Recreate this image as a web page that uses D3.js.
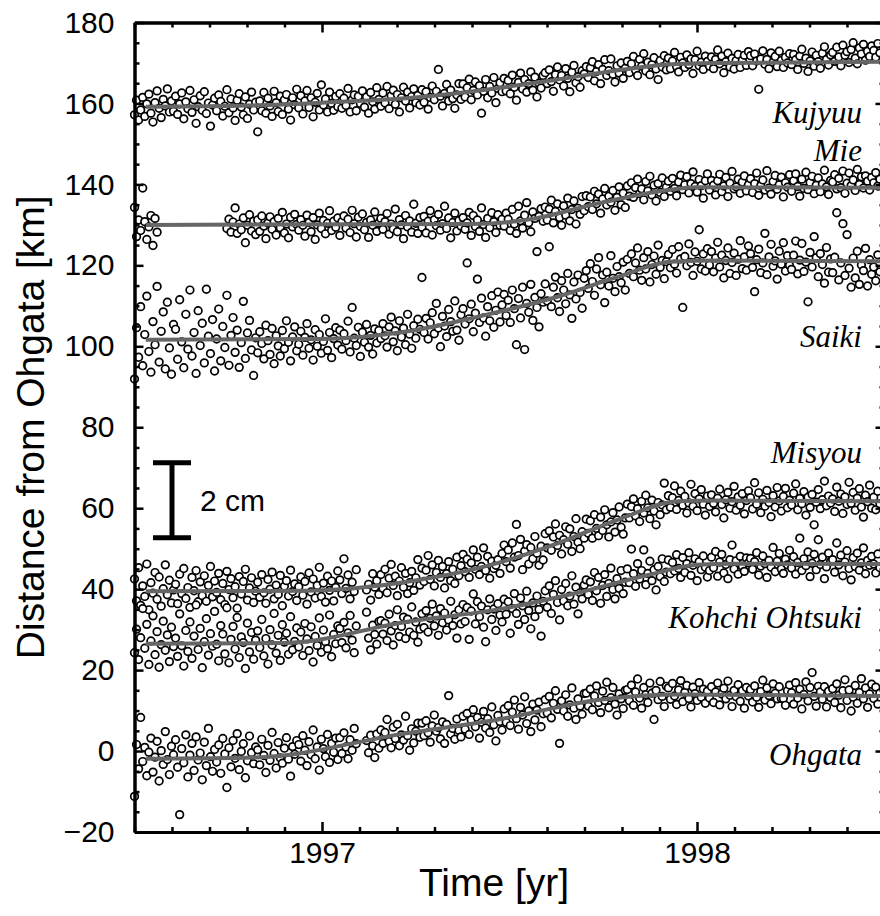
<!DOCTYPE html>
<html>
<head>
<meta charset="utf-8">
<script src="https://cdn.jsdelivr.net/npm/d3@7"></script>
<style>
body{margin:0;background:#fff;}
svg{display:block;font-family:"Liberation Sans",Arial,Helvetica,sans-serif;}
.station{font-family:"Liberation Serif","Times New Roman",serif;font-style:italic;font-size:31px;}
</style>
</head>
<body>
<svg id="chart"></svg>
<script>
// GPS solutions, one every second day from the first epoch (null = no solution)
var firstEpoch=1996.5;
var stepDays=2;

var kujyuu=[
157.2,160.8,155.9,158.4,161.5,156.8,159.9,162.3,157.6,155.4,160.2,163.1,158.8,156.5,161.0,159.4,163.6,157.9,160.6,158.1,
161.8,157.3,159.9,162.6,156.2,160.4,158.7,163.2,157.8,160.9,155.1,159.2,161.9,158.3,162.9,157.5,160.1,154.4,159.6,161.3,
158.2,162.1,160.5,156.9,159.3,163.4,157.7,161.1,158.9,155.8,160.8,162.4,159.1,157.2,161.6,156.3,159.8,162.8,158.4,160.3,
153.0,160.6,158.2,162.7,157.6,161.3,159.4,156.8,163.0,160.2,158.0,161.8,157.3,160.9,162.2,158.6,155.9,161.4,159.7,163.5,
158.9,161.9,157.4,160.6,163.2,159.0,161.4,156.7,160.3,162.5,158.4,164.6,159.6,161.1,157.9,162.8,160.0,158.3,161.7,159.2,
162.4,158.8,161.3,159.5,163.7,157.9,160.9,162.1,158.2,161.8,160.0,163.1,159.1,161.6,157.6,162.7,160.4,158.6,163.9,161.0,
159.3,162.6,160.1,164.2,158.7,161.9,163.3,159.8,162.2,157.9,161.4,164.0,160.6,162.8,158.9,161.7,163.6,160.2,162.0,159.6,
163.4,160.3,162.9,158.6,161.5,164.3,160.9,163.0,168.4,161.8,159.4,162.5,164.7,160.6,163.3,161.2,158.8,162.1,164.9,161.0,
164.8,161.6,163.9,166.0,160.9,163.2,165.3,162.1,164.4,157.6,163.0,165.9,161.4,164.2,162.6,166.4,160.2,163.7,165.1,162.9,
166.2,163.1,165.7,162.4,167.0,164.0,160.8,165.2,167.5,163.6,165.9,162.8,164.9,167.8,163.3,166.5,161.6,165.0,163.8,166.9,
167.6,164.9,168.3,165.4,163.0,167.1,169.0,165.8,166.9,164.3,168.6,166.2,162.9,167.7,169.4,165.1,166.6,164.0,168.1,167.3,
169.1,166.4,168.8,170.3,165.6,167.9,169.6,164.9,168.4,170.8,166.9,168.1,171.0,167.2,165.3,169.3,167.5,170.0,166.2,168.7,
170.4,167.6,169.8,171.6,168.2,166.9,170.9,169.2,172.3,168.0,170.2,167.1,169.6,171.3,168.5,165.9,170.6,169.0,171.8,168.3,
171.2,168.6,170.5,172.6,169.1,167.8,171.4,170.0,168.9,172.0,169.6,171.0,167.4,170.8,172.9,169.3,170.2,168.4,171.7,170.4,
169.2,171.5,168.6,170.9,173.2,169.8,171.7,167.6,170.3,172.4,169.0,171.1,168.5,170.6,172.1,168.9,170.7,171.9,169.4,172.8,
171.8,169.3,172.2,170.5,163.5,171.0,173.0,169.7,170.9,168.6,172.5,170.2,171.6,169.1,172.9,170.6,168.9,171.4,170.0,172.3,
169.6,172.1,170.8,168.4,171.7,173.4,169.9,171.2,167.9,170.5,172.7,169.2,171.9,170.3,168.7,172.4,174.0,170.9,169.5,172.0,
172.6,170.4,173.9,171.5,169.3,174.4,171.9,172.8,170.1,173.3,175.0,171.2,169.8,173.7,172.2,174.6,170.7,172.9,171.6,174.2,
173.1,171.4,174.8,172.5];

var mie=[
134.3,127.1,131.2,128.6,139.1,130.8,126.4,129.5,132.3,124.9,131.6,128.2,null,null,null,null,null,null,null,null,
null,null,null,null,null,null,null,null,null,null,null,null,null,null,null,null,null,null,null,null,
null,null,null,null,null,129.1,131.4,128.2,130.7,134.2,127.9,130.2,128.8,131.7,125.6,129.9,132.5,128.5,130.9,127.6,
131.2,128.4,132.2,129.7,126.6,130.5,132.0,128.9,130.8,127.5,131.6,129.3,133.1,128.0,130.2,126.8,131.9,129.5,132.6,130.1,
128.7,131.3,129.9,127.2,132.4,130.6,128.3,131.8,126.4,130.0,132.9,129.1,131.1,127.8,130.4,133.5,128.6,130.9,129.4,131.7,
127.4,130.8,132.2,129.2,131.4,128.1,133.6,130.3,127.0,131.9,129.6,132.7,128.8,130.6,126.9,131.2,129.9,133.2,128.4,130.5,
131.6,128.9,130.8,132.8,127.7,130.2,129.0,133.9,128.3,131.3,130.0,126.6,132.3,129.5,131.0,128.2,135.1,130.4,127.9,131.8,
129.4,132.1,128.0,130.9,133.5,127.5,131.3,129.8,132.6,128.7,130.3,134.6,129.1,131.7,126.8,130.6,132.9,128.5,131.1,129.7,
131.8,128.9,130.5,133.1,127.4,132.3,129.6,131.2,128.4,134.2,130.1,126.9,131.6,129.3,133.0,130.8,128.1,132.5,129.9,131.4,
129.7,132.9,131.4,128.6,133.8,130.2,127.9,134.6,131.0,129.2,132.4,135.5,130.5,128.3,133.2,131.6,123.4,132.1,134.0,130.9,
134.4,131.2,133.9,136.1,130.5,133.3,135.2,131.8,129.9,134.7,132.4,136.6,131.0,133.8,135.9,130.2,134.1,132.6,137.0,133.5,
137.2,134.5,136.9,133.8,138.3,135.2,137.6,132.9,136.4,139.0,134.9,137.1,135.6,138.5,133.6,136.8,139.4,135.0,137.8,134.3,
139.6,137.1,140.4,136.8,139.2,141.3,137.7,138.9,136.2,140.7,138.4,142.0,137.4,139.8,135.9,140.2,138.0,141.6,137.0,139.3,
140.8,138.3,141.5,139.0,137.2,140.6,142.3,138.7,139.9,141.9,137.9,140.2,143.1,139.5,138.1,141.2,139.7,136.6,140.9,142.6,
138.6,141.0,139.8,137.4,140.9,142.5,138.2,139.6,141.7,137.0,140.3,143.2,138.9,139.4,141.3,137.8,140.6,142.1,138.4,139.9,
141.4,138.0,140.2,142.8,137.3,139.7,141.1,138.6,143.4,139.1,137.6,140.7,142.2,138.8,139.9,141.8,136.9,140.4,139.3,142.4,
138.3,140.9,142.6,139.5,137.1,141.3,139.0,143.0,138.7,140.5,142.0,137.7,139.8,141.6,138.2,140.1,143.5,139.4,137.5,141.0,
140.6,142.4,138.9,141.5,139.2,143.3,137.8,140.3,142.8,139.7,141.1,138.5,143.7,140.0,141.9,139.1,142.1,140.8,138.6,141.7,
140.4,142.9,139.6,141.3];

var saiki=[
91.9,104.6,97.3,109.8,95.2,102.9,112.4,98.7,93.6,106.1,100.4,114.8,96.1,103.7,108.5,94.4,110.9,99.6,93.1,105.4,
104.2,96.8,111.5,101.1,94.7,107.9,99.3,113.9,97.6,103.4,93.3,108.8,100.2,105.7,95.9,114.1,102.5,98.2,106.6,93.9,
101.8,109.2,96.4,104.9,99.7,112.6,95.3,102.7,107.1,98.5,104.0,94.8,100.9,111.1,97.0,103.3,106.4,99.1,92.8,102.1,
98.4,103.6,100.7,96.9,105.2,101.4,98.0,104.4,95.7,102.6,100.1,97.6,103.9,99.4,106.3,101.0,96.4,102.3,104.8,98.9,
100.5,103.7,97.8,102.2,105.6,99.5,101.6,96.6,104.1,100.0,102.9,98.3,101.2,106.8,99.0,103.4,97.2,101.9,104.6,100.3,
104.0,99.3,103.1,101.4,106.2,98.6,109.6,102.0,100.2,104.7,97.5,103.5,101.0,105.4,99.8,102.7,98.1,104.3,100.8,103.9,
101.9,105.6,102.6,99.8,104.8,107.2,101.1,103.8,98.9,106.3,102.3,104.5,100.4,107.9,103.0,99.5,105.1,102.0,106.7,104.2,
117.0,103.4,106.9,101.8,105.8,108.3,103.1,110.6,104.5,99.9,107.4,105.0,102.4,109.1,106.1,103.7,111.2,104.0,101.5,107.8,
109.3,105.5,120.6,106.8,110.4,103.6,108.2,116.6,105.9,111.9,107.0,102.5,109.8,106.3,112.5,104.7,108.9,113.4,106.0,110.2,
112.8,107.6,111.4,105.9,113.9,109.3,100.4,111.8,107.0,114.6,99.2,110.6,108.4,115.3,106.4,112.1,109.6,104.8,113.0,110.9,
115.4,111.2,124.6,109.8,114.6,117.1,112.0,108.6,116.2,113.9,110.5,118.0,112.7,106.9,115.9,111.7,117.6,113.3,109.4,116.8,
118.7,114.3,120.4,116.0,112.6,119.1,121.9,115.2,117.6,110.8,118.3,114.9,122.4,116.8,113.5,119.7,117.2,115.7,120.8,113.9,
121.5,118.0,122.8,117.2,120.6,124.3,118.8,116.3,121.9,119.1,123.4,115.9,120.2,122.3,117.8,125.0,119.5,121.2,116.7,120.9,
122.7,119.4,123.9,120.3,118.1,124.6,121.6,109.6,122.2,119.9,125.3,120.7,117.5,123.3,121.0,128.8,119.1,122.8,118.6,124.1,
120.1,123.4,118.4,121.8,125.7,119.6,122.5,116.9,121.2,124.3,118.0,120.7,123.0,117.5,121.5,126.1,119.2,122.1,118.8,124.8,
122.9,119.5,113.5,121.4,124.0,118.2,120.6,127.9,117.7,122.1,125.2,119.8,121.1,116.6,123.5,120.3,125.6,118.6,122.4,120.0,
119.0,122.5,126.0,117.9,121.3,125.4,118.5,120.8,111.0,123.2,119.6,127.1,121.9,117.2,122.9,120.2,115.6,124.4,118.3,121.6,
118.2,122.0,133.0,116.4,120.6,130.3,117.5,127.6,119.3,114.6,121.8,116.9,123.5,115.3,120.1,118.7,124.2,114.9,121.4,117.8,
119.6,116.2,122.6,118.4];

var misyou=[
42.5,37.1,45.3,36.0,40.8,38.2,46.2,34.9,41.6,39.0,44.1,37.5,43.0,35.8,40.1,46.0,38.6,42.2,36.6,39.8,
41.2,36.4,43.7,38.9,45.1,37.7,40.4,35.5,42.9,39.6,44.6,36.9,41.8,38.4,43.3,37.0,40.9,45.6,38.1,42.0,
39.2,43.9,37.4,41.4,36.2,44.4,39.9,42.6,37.9,40.6,35.3,43.1,38.8,41.9,44.9,37.3,40.3,42.8,36.7,39.5,
41.7,38.0,43.6,39.1,36.5,42.4,40.0,44.2,37.6,41.0,38.7,43.4,35.9,40.7,42.1,38.3,44.7,39.4,41.3,37.2,
40.6,43.0,38.5,41.9,36.3,44.0,39.3,42.5,37.8,40.9,45.4,38.2,41.5,36.8,43.2,39.7,42.0,37.1,40.4,44.5,
42.3,38.9,47.5,40.2,43.5,37.6,41.7,39.4,44.8,null,null,null,null,39.8,41.2,37.3,43.8,40.5,42.1,38.7,
43.6,40.2,44.9,39.1,42.7,46.1,40.9,43.2,38.4,42.0,45.3,40.5,43.9,38.9,41.6,44.4,39.7,42.8,47.3,41.0,
45.2,41.9,44.7,48.3,42.4,46.0,40.8,44.1,47.1,42.9,45.6,40.3,43.8,46.8,42.1,44.9,41.4,47.9,43.3,45.8,
48.6,44.3,47.4,42.9,46.5,49.7,44.9,47.9,43.6,45.6,50.2,44.6,48.1,42.7,46.9,45.1,45.9,47.3,43.9,48.8,
50.9,46.8,49.7,45.2,51.4,47.9,56.0,48.3,52.3,44.8,49.4,51.0,46.2,50.3,47.5,53.0,48.9,45.9,50.6,47.2,
53.7,50.2,54.4,49.6,52.9,56.1,50.8,53.3,48.7,52.2,55.4,51.1,54.9,49.3,53.0,57.4,51.6,50.0,54.2,52.6,
57.3,53.8,56.9,52.6,58.4,55.0,53.2,57.8,54.5,59.6,55.9,52.9,56.6,58.9,54.1,57.1,60.3,55.3,53.6,57.6,
61.0,57.6,60.4,62.3,58.1,59.9,56.7,61.7,58.8,63.2,60.1,57.4,62.0,59.3,55.9,61.4,58.4,60.8,66.2,59.6,
63.1,60.2,62.6,65.5,59.7,61.9,64.2,60.7,62.9,58.8,61.3,65.9,60.5,63.6,59.4,62.3,64.6,61.0,58.3,63.0,
60.4,63.3,61.2,59.1,62.5,64.7,60.9,57.6,62.1,63.9,60.0,61.6,65.4,59.5,62.8,60.7,63.6,58.6,61.9,64.3,
62.6,59.8,66.3,61.0,63.8,58.9,62.2,60.5,64.4,61.4,57.9,63.1,60.3,65.1,61.8,59.3,62.9,64.9,60.1,62.0,
60.8,63.7,66.0,59.6,62.4,61.1,64.1,58.3,62.7,60.2,63.4,55.9,61.5,64.6,59.9,62.1,66.7,60.6,63.0,61.3,
62.3,59.2,65.2,61.7,63.5,58.7,62.8,60.9,66.4,61.2,63.9,59.5,62.5,64.8,60.3,57.8,63.2,61.6,65.7,60.0,
62.7,59.6,64.2,61.1];

var kohchiOhtsuki=[
24.3,30.1,22.6,28.0,35.2,25.4,31.3,21.4,27.2,33.4,23.8,29.5,20.7,26.3,32.1,24.9,28.7,22.1,30.6,25.8,
27.9,23.4,33.9,26.0,21.0,29.8,24.6,31.9,22.9,28.4,36.1,25.1,30.3,20.6,27.0,32.7,23.7,29.0,25.9,34.5,
26.4,22.3,31.0,28.9,24.0,35.4,21.8,27.6,30.8,25.2,33.0,23.1,28.2,26.8,20.4,31.6,24.5,29.3,22.7,27.4,
29.7,25.6,32.5,23.5,27.8,21.5,30.0,26.2,34.0,24.2,28.6,22.4,31.2,26.9,29.1,23.9,33.2,25.0,27.1,30.4,
25.7,29.4,23.6,31.5,27.7,24.8,30.7,22.0,28.3,26.1,32.9,24.4,29.9,27.0,25.3,33.6,23.3,28.8,26.5,30.9,
30.3,26.8,31.8,25.5,29.2,33.5,27.4,24.3,30.9,null,null,null,null,34.3,27.9,25.0,31.1,28.8,26.4,32.0,
32.2,28.9,31.6,27.3,33.8,29.7,26.2,31.0,34.9,28.3,30.8,33.1,27.8,32.6,29.4,35.6,28.6,31.9,26.9,30.1,
33.9,30.5,34.7,29.4,32.8,36.3,30.9,33.4,28.6,35.2,31.7,34.1,29.9,32.4,37.0,31.0,33.7,27.9,34.9,31.4,
36.2,32.0,35.5,27.6,34.6,38.8,31.4,36.9,33.2,35.8,30.6,27.0,34.9,37.6,32.5,35.1,29.8,36.4,33.6,31.9,
37.5,33.8,36.9,29.1,35.2,38.9,34.0,31.3,37.8,35.9,32.5,39.5,34.7,30.2,36.6,33.2,38.3,35.0,28.4,37.0,
39.6,35.5,40.8,34.0,38.7,42.1,36.7,32.4,39.9,37.1,41.4,35.9,38.3,43.3,36.3,40.5,33.9,39.1,37.6,41.0,
42.3,38.7,41.8,37.2,44.1,39.6,42.9,36.5,40.9,43.6,38.2,41.4,45.2,39.9,37.6,42.6,40.2,44.6,38.9,41.7,
45.0,41.6,49.9,43.8,40.7,46.3,42.5,44.6,49.7,41.1,43.9,46.9,42.1,44.8,39.8,45.6,43.1,47.5,41.9,44.2,
47.2,43.8,46.6,44.5,48.5,45.1,42.9,47.8,44.1,46.3,49.0,43.4,45.9,47.5,42.1,46.8,44.8,48.2,45.4,43.0,
44.6,47.9,45.3,49.3,43.2,46.7,48.6,44.0,46.1,42.6,47.3,50.9,45.0,47.0,43.7,48.1,45.7,44.4,47.7,46.5,
47.6,44.9,46.8,49.0,43.5,45.7,48.2,46.3,42.9,47.1,45.4,50.3,44.3,46.9,48.8,45.0,43.9,47.4,46.0,49.6,
45.2,48.0,43.7,46.6,52.6,44.6,47.5,45.8,49.2,43.1,46.4,48.6,44.8,52.2,46.1,47.9,42.6,45.5,48.9,46.8,
47.3,44.2,51.4,46.0,48.4,43.3,46.7,49.5,45.1,42.3,47.8,45.6,48.9,44.7,46.5,50.2,43.8,47.1,45.9,48.1,
46.2,44.0,48.7,45.3];

var ohgata=[
-11.2,1.6,-4.4,8.3,-2.6,0.9,-6.1,-0.3,3.2,-5.2,-1.5,2.4,-7.4,0.1,-3.3,4.8,-2.1,-5.8,1.2,-0.9,
2.8,-4.0,-15.7,0.6,-2.9,4.0,-6.4,-1.0,1.9,-4.8,3.5,-2.2,-0.5,-7.1,2.2,-3.6,5.6,-1.4,-5.0,0.4,
-2.7,1.5,-5.5,3.1,-0.7,-9.0,0.8,-3.9,2.6,-1.8,4.3,-4.6,-0.1,1.8,-6.6,-2.4,3.7,-0.4,-3.1,1.0,
0.3,-3.4,2.9,-1.1,-5.3,1.4,-2.3,4.6,-0.6,-4.2,2.1,-1.7,-3.0,0.7,3.3,-2.0,-6.2,1.1,-0.8,2.6,
1.6,-2.5,3.8,0.2,-3.6,2.3,-0.9,5.2,-1.9,1.0,-4.7,2.9,0.6,-1.4,4.1,-2.8,1.9,-0.3,3.2,-2.1,
3.3,-0.6,4.5,1.0,-1.9,2.8,0.2,5.6,1.8,null,null,null,null,2.6,-0.4,3.9,1.3,-1.6,4.2,0.7,
5.2,1.9,4.6,7.8,2.4,0.8,5.9,3.1,6.6,1.3,4.0,2.7,8.6,3.8,0.2,5.5,2.0,4.9,6.9,3.4,
6.9,3.8,7.5,4.5,2.2,6.2,8.9,4.9,5.8,3.0,7.2,1.9,6.6,13.7,4.2,5.6,2.9,7.9,5.1,3.5,
8.6,5.4,9.3,4.1,7.7,10.2,6.0,8.3,3.2,7.1,9.8,5.7,8.0,4.6,10.9,6.5,2.5,8.8,7.3,5.2,
10.4,7.1,11.2,6.3,9.6,12.6,8.0,5.4,10.8,8.9,13.4,6.8,9.9,4.8,11.6,7.7,10.1,12.1,6.0,9.2,
12.7,9.4,13.5,8.2,11.8,14.9,10.3,1.9,12.4,9.9,13.9,8.6,11.4,15.6,10.6,7.8,12.9,11.1,9.1,14.2,
14.3,11.1,15.3,10.2,13.6,16.1,12.0,9.5,14.8,12.5,17.0,10.7,13.2,15.7,11.6,8.9,14.1,12.9,10.5,15.0,
15.2,12.4,16.3,11.3,14.6,17.8,13.1,10.6,15.7,13.9,12.0,16.8,14.3,7.8,15.0,12.7,17.2,13.5,11.0,16.0,
15.6,12.8,16.7,13.6,11.5,15.1,17.4,12.2,14.5,16.2,13.0,10.9,15.8,14.2,12.5,16.9,13.3,15.3,11.8,14.8,
13.1,15.9,12.0,14.6,16.8,11.4,14.1,15.5,12.9,17.3,13.8,11.0,15.0,13.4,16.4,12.3,14.9,10.6,15.7,13.6,
15.2,12.1,16.1,13.3,10.8,14.7,17.5,12.6,15.6,13.7,11.7,16.6,14.3,12.9,15.9,13.0,13.0,11.3,14.9,16.3,
14.4,11.6,16.9,13.1,15.3,10.4,14.0,17.1,12.4,15.7,19.4,13.5,11.1,16.0,14.6,12.8,15.9,10.9,14.8,13.2,
15.4,12.0,16.6,13.8,10.7,14.9,17.6,12.5,15.1,9.9,13.3,16.2,11.8,14.5,17.9,12.9,15.6,10.8,14.1,16.5,
13.0,15.8,11.6,14.3];

// fitted curves, [year, km]
var kujyuuFit=[[1996.53,159.2],[1996.8,159.5],[1997.0,160.2],[1997.24,161.4],[1997.42,163.2],[1997.62,165.8],[1997.8,168.3],[1997.92,169.6],[1998.05,170.0],[1998.5,170.3]];
var mieFit=[[1996.53,130.0],[1997.4,130.2],[1997.55,131.3],[1997.74,135.4],[1997.9,138.3],[1998.0,139.3],[1998.5,139.2]];
var saikiFit=[[1996.53,101.6],[1997.0,101.8],[1997.23,103.7],[1997.42,107.4],[1997.63,112.3],[1997.79,117.2],[1997.93,120.9],[1998.05,121.2],[1998.5,121.0]];
var misyouFit=[[1996.53,39.5],[1996.95,39.6],[1997.24,42.0],[1997.47,46.5],[1997.63,51.4],[1997.79,57.2],[1997.95,61.7],[1998.05,61.9],[1998.5,61.7]];
var kohchiOhtsukiFit=[[1996.53,26.5],[1996.9,26.7],[1997.23,32.0],[1997.47,35.0],[1997.69,39.3],[1997.87,43.5],[1998.0,46.0],[1998.1,46.3],[1998.5,46.2]];
var ohgataFit=[[1996.53,-1.9],[1996.82,-1.6],[1997.22,4.3],[1997.47,7.8],[1997.74,12.7],[1997.95,14.0],[1998.5,13.6]];

var stationNames=["Kujyuu","Mie","Saiki","Misyou","Kohchi Ohtsuki","Ohgata"];
var stationSeries=[kujyuu,mie,saiki,misyou,kohchiOhtsuki,ohgata];
var stationFits=[kujyuuFit,mieFit,saikiFit,misyouFit,kohchiOhtsukiFit,ohgataFit];
var yearTicks=[1997,1998];
var kmTicks=[-20,0,20,40,60,80,100,120,140,160,180];


// Initialize the SVG width and height
var width=880;
var height=916;

var svg=d3.select("#chart")
          .attr("width",width)
          .attr("height",height);

var xScale=d3.scaleLinear()
             .domain([1996.5,1998.5])
             .range([134.5,884.5]);

var yScale=d3.scaleLinear()
             .domain([-20,180])
             .range([832,22.5]);

var plotLeft=xScale.range()[0], plotRight=xScale.range()[1];
var plotTop=yScale.range()[1], plotBottom=yScale.range()[0];

// station labels sit just under / over each curve at the right edge
var labelKm=[155.2,145.8,99.9,71.2,30.4,-3.5];


// points
stationSeries.forEach(function(values){
  var pts=values.map(function(v,i){ return {t:firstEpoch+i*stepDays/365.25,v:v}; })
                .filter(function(d){ return d.v!==null; });
  svg.append("g")
    .selectAll("circle")
    .data(pts)
    .enter()
    .append("circle")
      .attr("cx",d=> xScale(d.t))
      .attr("cy",d=> yScale(d.v))
      .attr("r",3.8)
      .attr("fill","#fff")
      .attr("stroke","#000")
      .attr("stroke-width",1.7);
});

// fitted curves on top of the points
var fitLine=d3.line()
              .x(d=> xScale(d[0]))
              .y(d=> yScale(d[1]))
              .curve(d3.curveMonotoneX);

svg.append("g")
  .selectAll("path")
  .data(stationFits)
  .enter()
  .append("path")
    .attr("d",fitLine)
    .attr("fill","none")
    .attr("stroke","#666")
    .attr("stroke-width",4);


// axes, ticks pointing inward
var minorYears=d3.range(0,21).map(i=> +(1996.5+i*0.1).toFixed(1)).filter(d=> yearTicks.indexOf(d)<0);
var minorKm=d3.range(-20,181,5).filter(d=> d%20!==0);

function styleAxis(g,fontSize){
  g.select(".domain").attr("stroke-width",3);
  g.selectAll(".tick line").attr("stroke-width",2.5);
  g.attr("font-size",fontSize).attr("font-family",null);
  g.selectAll(".tick text").attr("fill","#000");
}

svg.append("g")
  .attr("transform","translate(0,"+plotBottom+")")
  .call(d3.axisBottom(xScale).tickValues(yearTicks).tickFormat(d3.format("d")).tickSize(-10).tickSizeOuter(0).tickPadding(10))
  .call(styleAxis,30);
svg.append("g")
  .attr("transform","translate(0,"+plotBottom+")")
  .call(d3.axisBottom(xScale).tickValues(minorYears).tickFormat("").tickSize(-5).tickSizeOuter(0))
  .call(styleAxis,30);
svg.append("g")
  .attr("transform","translate(0,"+plotTop+")")
  .call(d3.axisTop(xScale).tickValues(yearTicks).tickFormat("").tickSize(-10).tickSizeOuter(0))
  .call(styleAxis,30);
svg.append("g")
  .attr("transform","translate(0,"+plotTop+")")
  .call(d3.axisTop(xScale).tickValues(minorYears).tickFormat("").tickSize(-5).tickSizeOuter(0))
  .call(styleAxis,30);

svg.append("g")
  .attr("transform","translate("+plotLeft+",0)")
  .call(d3.axisLeft(yScale).tickValues(kmTicks).tickSize(-9).tickSizeOuter(0).tickPadding(20))
  .call(styleAxis,30);
svg.append("g")
  .attr("transform","translate("+plotLeft+",0)")
  .call(d3.axisLeft(yScale).tickValues(minorKm).tickFormat("").tickSize(-5).tickSizeOuter(0))
  .call(styleAxis,30);
svg.append("g")
  .attr("transform","translate("+plotRight+",0)")
  .call(d3.axisRight(yScale).tickValues(kmTicks).tickFormat("").tickSize(-9).tickSizeOuter(0))
  .call(styleAxis,30);
svg.append("g")
  .attr("transform","translate("+plotRight+",0)")
  .call(d3.axisRight(yScale).tickValues(minorKm).tickFormat("").tickSize(-5).tickSizeOuter(0))
  .call(styleAxis,30);


// station names
svg.append("g")
  .selectAll("text")
  .data(stationNames)
  .enter()
  .append("text")
    .attr("class","station")
    .attr("x",862)
    .attr("y",(d,i)=> yScale(labelKm[i]))
    .style("text-anchor","end")
    .text(d=> d);


// 2 cm scale bar
var barX=xScale(1996.6), barTop=yScale(71.2), barBottom=yScale(52.7);
var bar=svg.append("g").attr("stroke","#000");
bar.append("line").attr("x1",barX).attr("x2",barX).attr("y1",barTop).attr("y2",barBottom).attr("stroke-width",5);
bar.append("line").attr("x1",barX-19).attr("x2",barX+19).attr("y1",barTop).attr("y2",barTop).attr("stroke-width",5);
bar.append("line").attr("x1",barX-19).attr("x2",barX+19).attr("y1",barBottom).attr("y2",barBottom).attr("stroke-width",5);
svg.append("text")
  .attr("x",barX+28)
  .attr("y",(barTop+barBottom)/2)
  .attr("dy","0.36em")
  .style("font-size","30px")
  .text("2 cm");


// axis titles
svg.append("text")
  .attr("x",494)
  .attr("y",896)
  .style("text-anchor","middle")
  .style("font-size","39px")
  .text("Time [yr]");

svg.append("text")
  .attr("transform","rotate(-90)")
  .attr("x",-(plotTop+plotBottom)/2)
  .attr("y",44)
  .style("text-anchor","middle")
  .style("font-size","39px")
  .text("Distance from Ohgata [km]");
</script>
</body>
</html>
